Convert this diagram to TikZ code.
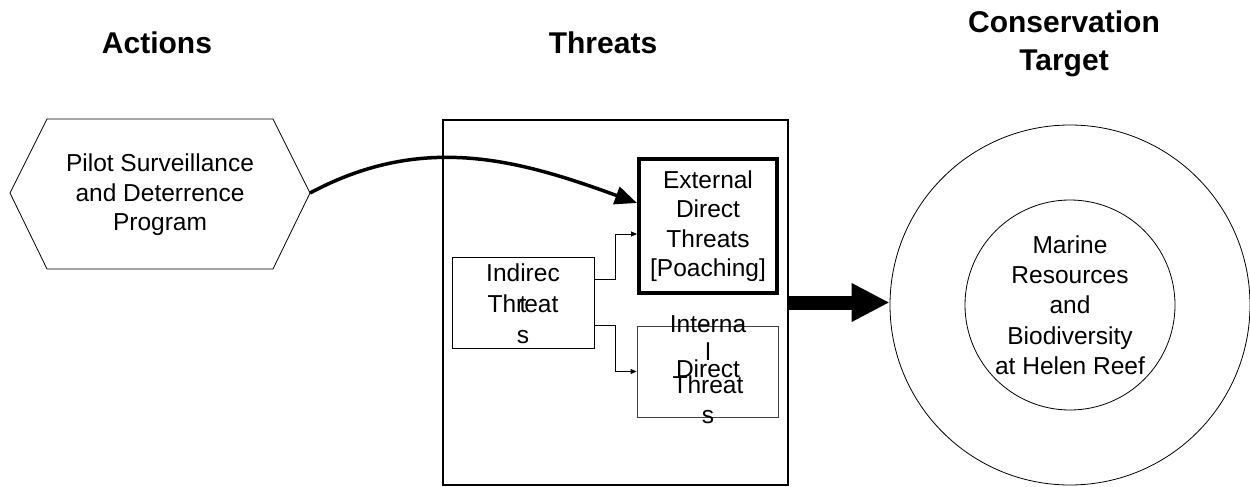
\documentclass[tikz,border=0pt]{standalone}
\usepackage{fontspec}
\setmainfont{Liberation Sans}
\usetikzlibrary{arrows.meta,positioning}

\begin{document}
\begin{tikzpicture}[x=1pt,y=-1pt,
        txt/.style={font=\fontsize{24.5}{29.5}\selectfont, align=center, inner sep=0pt},
        head/.style={font=\fontsize{30}{38}\selectfont\bfseries, align=center, inner sep=0pt},
        link/.style={line width=0.8pt, -{Triangle[length=6pt,width=5pt]}}]
                \useasboundingbox (0,0) rectangle (1250,487);

                \node[head, anchor=base] (acthead) at (157,53) {Actions};
                \node[head, anchor=base] (thrhead) at (603,53) {Threats};
                \node[head] (tgthead) at (1064,44) {Conservation\\Target};

                \draw[line width=0.8pt] (10,193)
                    -- (47,119)
                    -- (273,119)
                    -- (310,193)
                    -- (273,269)
                    -- (47,269)
                    -- cycle;
                \coordinate (acttip) at (310,193);
                \node[txt] (act) at (160,195) {Pilot Surveillance\\and Deterrence\\Program};

                \node[draw, line width=2pt, minimum width=345pt, minimum height=365pt] (thr) at (615.5,302.5) {};
                \node[txt, draw, line width=4pt, minimum width=138pt, minimum height=134pt] (ext) at (708,226) {External\\Direct\\Threats\\{[Poaching]}};

                \node[draw, line width=0.8pt, minimum width=142pt, minimum height=91pt] (ind) at (523,302.5) {};
                \node[txt] (indtxt) at (523,304) {Indirec\\[1.5pt]Threat\\[1.5pt]s};
                \node[txt, anchor=base] (indt) at (523,312) {t};

                \node[draw=black!75, line width=0.8pt, minimum width=141pt, minimum height=91pt] (int) at (707.5,371.5) {};
                \node[txt, anchor=base] (int1) at (708,332) {Interna};
                \node[txt, anchor=base] (int2) at (708,360) {l};
                \node[txt, anchor=base] (int3) at (708,377) {Direct};
                \node[txt, anchor=base] (int4) at (708,393) {Threat};
                \node[txt, anchor=base] (int5) at (708,423) {s};

                \node[draw, circle, line width=0.8pt, minimum size=360pt, inner sep=0pt] (outer) at (1070,305) {};
                \node[txt, font=\fontsize{24.5}{30.3}\selectfont, draw, circle, line width=0.8pt, minimum size=210pt] (tgt) at (1070,305) {Marine\\Resources\\and\\Biodiversity\\at Helen Reef};

                \draw[line width=3.5pt, -{Triangle[length=22pt,width=18pt]}] (acttip)
                    .. controls +(112,-60) and +(-120,-44) .. ([yshift=23pt]ext.west);
                \draw[line width=14pt, -{Triangle[length=38pt,width=36pt]}] (thr.east) -- (thr.east -| outer.west);

                \draw[link] ([yshift=23.5pt]ind.east) -- ++(21,0) |- ([yshift=-8pt]ext.west);
                \draw[link] ([yshift=-22.5pt]ind.east) -- ++(21,0) |- (int.west);
            \end{tikzpicture}
\end{document}
